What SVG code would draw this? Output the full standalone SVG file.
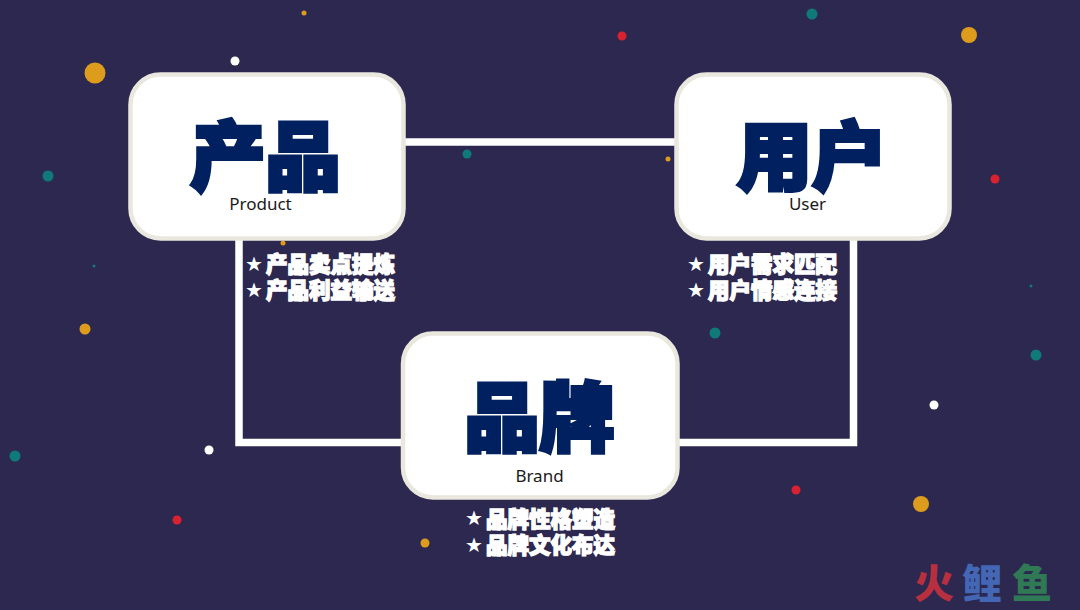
<svg xmlns="http://www.w3.org/2000/svg" width="1080" height="610" viewBox="0 0 1080 610">
<style>
.box{fill:#fff;stroke:#e9e7de;stroke-width:4.5}
.conn{fill:none;stroke:#fff;stroke-width:7.500}
.title{font-family:"Noto Sans CJK SC",sans-serif;font-weight:900;font-size:75px;fill:#012060;stroke:#012060;stroke-width:4;stroke-linejoin:miter;text-anchor:middle}
.sub{font-family:"Noto Sans","Open Sans",sans-serif;font-size:17px;fill:#1a1a1a;text-anchor:middle}
.bul{font-family:"Noto Sans CJK SC",sans-serif;font-weight:900;font-size:21.500px;fill:#fff;stroke:#fff;stroke-width:1.400}
.star{font-family:"DejaVu Sans",sans-serif;font-size:20px;fill:#fff}
.mark{font-family:"Noto Sans CJK SC",sans-serif;font-weight:900;font-size:40px}
.g{fill:#dd9c1c}.t{fill:#0f7a78}.r{fill:#d8222f}.w{fill:#fff}
</style>
<rect width="1080" height="610" fill="#2c2850"/>
<g id="dots">
<circle class="g" cx="95" cy="73" r="10.500"/><circle class="w" cx="235" cy="61" r="4.500"/><circle class="g" cx="304" cy="13" r="2.500"/><circle class="r" cx="622" cy="36" r="4.500"/><circle class="t" cx="812" cy="14" r="5.500"/><circle class="g" cx="969" cy="35" r="8"/><circle class="t" cx="48" cy="176" r="5.500"/><circle class="t" cx="467" cy="154" r="4.500"/><circle class="g" cx="668" cy="159" r="2.500"/><circle class="r" cx="995" cy="179" r="4.500"/><circle class="t" cx="94" cy="266" r="1.500"/><circle class="g" cx="283" cy="243" r="2.500"/><circle class="g" cx="85" cy="329" r="5.500"/><circle class="t" cx="715" cy="333" r="5.500"/><circle class="t" cx="1031" cy="286" r="1.500"/><circle class="t" cx="1036" cy="355" r="5.500"/><circle class="w" cx="934" cy="405" r="4.500"/><circle class="w" cx="209" cy="450" r="4.500"/><circle class="t" cx="15" cy="456" r="5.500"/><circle class="r" cx="796" cy="490" r="4.500"/><circle class="g" cx="921" cy="504" r="8"/><circle class="r" cx="177" cy="520" r="4.500"/><circle class="g" cx="425" cy="543" r="4.500"/>
</g>
<g id="connectors">
<path class="conn" d="M403 142H677"/>
<path class="conn" d="M239 238V442.500H403"/>
<path class="conn" d="M853.500 238V442.500H677"/>
</g>
<g id="product">
<rect class="box" x="130.500" y="74.500" width="273" height="164" rx="30"/>
<text class="title" x="265.500" y="184">产品</text>
<text class="sub" x="260.500" y="209.500">Product</text>
<text class="star" x="245" y="271">★</text><text class="bul" x="266" y="271.500">产品卖点提炼</text>
<text class="star" x="245" y="297">★</text><text class="bul" x="266" y="297.500">产品利益输送</text>
</g>
<g id="user">
<rect class="box" x="676.500" y="74.500" width="273" height="164" rx="30"/>
<text class="title" x="812" y="184">用户</text>
<text class="sub" x="807.500" y="209.500">User</text>
<text class="star" x="687" y="271">★</text><text class="bul" x="708" y="271.500">用户需求匹配</text>
<text class="star" x="687" y="297">★</text><text class="bul" x="708" y="297.500">用户情感连接</text>
</g>
<g id="brand">
<rect class="box" x="403" y="333.500" width="274.500" height="164" rx="30"/>
<text class="title" x="539.500" y="444.500">品牌</text>
<text class="sub" x="539.500" y="481.500">Brand</text>
<text class="star" x="465" y="525">★</text><text class="bul" x="486" y="526.500">品牌性格塑造</text>
<text class="star" x="465" y="552">★</text><text class="bul" x="486" y="552.500">品牌文化布达</text>
</g>
<g id="watermark">
<text class="mark" x="914" y="598" fill="#b8303f">火</text>
<text class="mark" x="962" y="598" fill="#4367b5">鲤</text>
<text class="mark" x="1012" y="598" fill="#2f7a55">鱼</text>
</g>
</svg>
